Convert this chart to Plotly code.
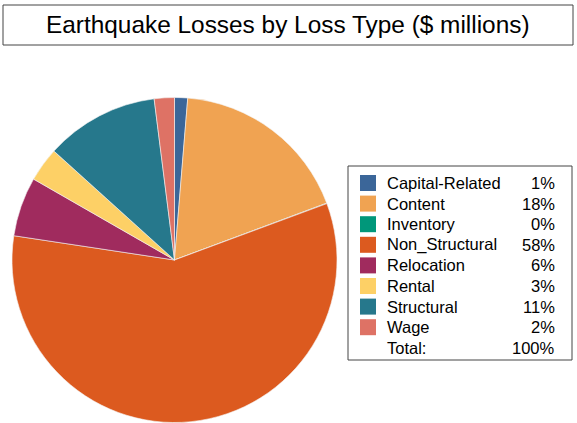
import plotly.graph_objects as go

categories = ["Capital-Related", "Content", "Inventory", "Non_Structural",
              "Relocation", "Rental", "Structural", "Wage"]
values = [1.3, 18.0, 0.05, 58.0, 5.9, 3.4, 11.3, 2.0]
colors = ["#3B6699", "#F0A352", "#00977A", "#DC5A1F",
          "#A02B5E", "#FDD066", "#26788C", "#DE7265"]
title_text = "Earthquake Losses by Loss Type ($ millions)"

W, H = 577, 423
FONT = "Arial, Liberation Sans, sans-serif"

def px(x):
    return x / W

def py(y):
    return 1 - y / H

fig = go.Figure(go.Pie(
    labels=categories, values=values, sort=False, direction="clockwise",
    rotation=0, textinfo="none", showlegend=False,
    marker=dict(colors=colors, line=dict(color="#f4f4f4", width=0.6)),
    domain=dict(x=[px(12), px(337)], y=[py(422.5), py(97.5)]),
))

shapes = []
annotations = []
# title box
shapes.append(dict(type="rect", xref="paper", yref="paper",
                   x0=px(3), x1=px(573), y0=py(45), y1=py(5),
                   line=dict(color="#444", width=1), fillcolor="white"))
annotations.append(dict(text=title_text, xref="paper", yref="paper",
                        x=px(288), y=py(25), showarrow=False,
                        xanchor="center", yanchor="middle",
                        font=dict(family=FONT, size=24.4, color="#000")))
# legend box
shapes.append(dict(type="rect", xref="paper", yref="paper",
                   x0=px(348), x1=px(572), y0=py(360), y1=py(166),
                   line=dict(color="#444", width=1), fillcolor="white"))

total = sum(values)
row0, step = 183, 20.6
FS = 16.5
for i, (c, v, col) in enumerate(zip(categories, values, colors)):
    yc = row0 + i * step
    shapes.append(dict(type="rect", xref="paper", yref="paper",
                       x0=px(360), x1=px(376), y0=py(yc + 8), y1=py(yc - 8),
                       line=dict(width=0), fillcolor=col))
    annotations.append(dict(text=c, xref="paper", yref="paper", x=px(385), y=py(yc),
                            showarrow=False, xanchor="left", yanchor="middle",
                            font=dict(family=FONT, size=FS, color="#000")))
    annotations.append(dict(text=f"{round(v / total * 100)}%", xref="paper", yref="paper",
                            x=px(557), y=py(yc), showarrow=False,
                            xanchor="right", yanchor="middle",
                            font=dict(family=FONT, size=FS, color="#000")))
yc = row0 + len(categories) * step
annotations.append(dict(text="Total:", xref="paper", yref="paper", x=px(385), y=py(yc),
                        showarrow=False, xanchor="left", yanchor="middle",
                        font=dict(family=FONT, size=FS, color="#000")))
annotations.append(dict(text="100%", xref="paper", yref="paper", x=px(557), y=py(yc),
                        showarrow=False, xanchor="right", yanchor="middle",
                        font=dict(family=FONT, size=FS, color="#000")))

fig.update_layout(width=W, height=H, margin=dict(l=0, r=0, t=0, b=0),
                  paper_bgcolor="white", plot_bgcolor="white",
                  shapes=shapes, annotations=annotations, showlegend=False)
fig.write_html("out.html", config={"displayModeBar": False},
               post_script="document.body.style.margin='0';document.body.style.overflow='hidden';")
